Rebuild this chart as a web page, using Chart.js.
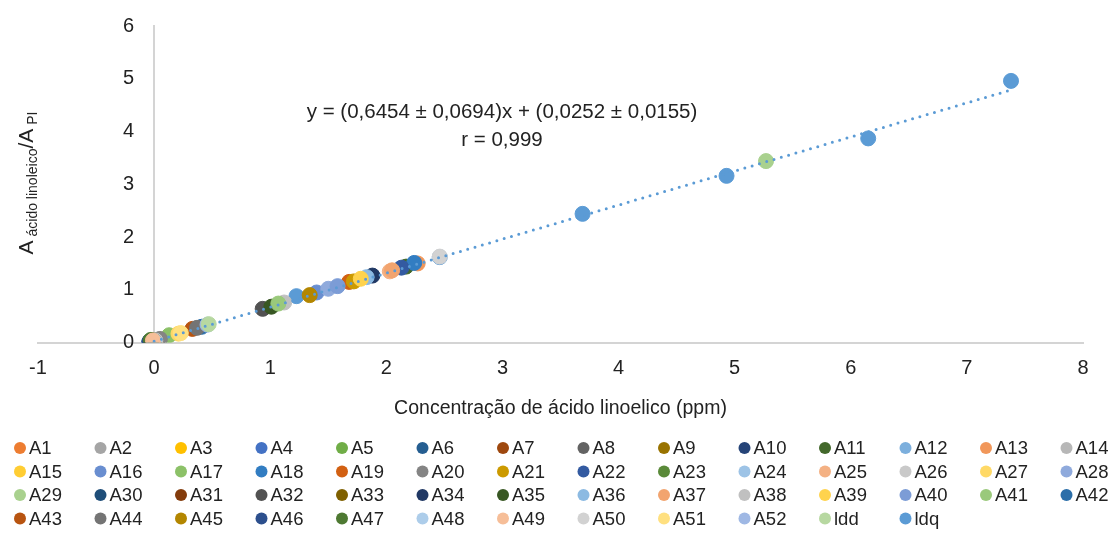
<!DOCTYPE html>
<html>
<head>
<meta charset="utf-8">
<script src="https://cdn.jsdelivr.net/npm/chart.js"></script>
<style>
  html, body { margin: 0; padding: 0; background: #fff; }
</style>
</head>
<body>
<canvas id="myChart" width="1118" height="538"></canvas>
<script>
  // sample names and values
  const sampleNames = [
    'A1','A2','A3','A4','A5','A6','A7','A8','A9','A10','A11','A12','A13',
    'A14','A15','A16','A17','A18','A19','A20','A21','A22','A23','A24','A25','A26',
    'A27','A28','A29','A30','A31','A32','A33','A34','A35','A36','A37','A38','A39',
    'A40','A41','A42','A43','A44','A45','A46','A47','A48','A49','A50','A51','A52'
  ];
  const sampleConc = [
    0.00, 0.02, -0.01, -0.04, 0.01, -0.03, -0.02, 0.03, 0.00, -0.03, 2.17, 0.01, 2.27,
    0.02, 0.01, 1.40, 0.13, 2.24, 1.68, 0.05, 1.72, 2.13, -0.01, 0.00, 2.03, 0.01,
    0.21, 1.50, 5.27, -0.04, -0.02, 0.935, 0.00, 1.88, 1.01, 1.83, 2.05, 1.12, 1.78,
    1.58, 1.07, 0.41, 0.33, 0.37, 1.34, -0.04, -0.03, 0.00, -0.01, 2.46, 0.23, 0.46
  ];
  const sampleRatio = [
    0.03, 0.04, 0.03, 0.02, 0.04, 0.02, 0.04, 0.05, 0.03, 0.03, 1.44, 0.03, 1.50,
    0.04, 0.03, 0.95, 0.14, 1.51, 1.15, 0.07, 1.16, 1.42, 0.04, 0.03, 1.35, 0.04,
    0.17, 1.02, 3.44, 0.02, 0.04, 0.64, 0.03, 1.27, 0.68, 1.24, 1.37, 0.76, 1.21,
    1.07, 0.74, 0.30, 0.26, 0.28, 0.90, 0.01, 0.05, 0.03, 0.04, 1.63, 0.18, 0.34
  ];
  const lddConc = [0.47];
  const lddRatio = [0.35];
  const ldqConc = [1.226, 2.46, 3.69, 4.93, 6.15, 7.38];
  const ldqRatio = [0.88, 1.62, 2.44, 3.16, 3.87, 4.96];
  // linear trend, y = 0.6454x + 0.0252
  const trendConc = [0, 7.38];
  const trendRatio = [0.0252, 4.788];
  const xTicks = [-1, 0, 1, 2, 3, 4, 5, 6, 7, 8];
  const yTicks = [0, 1, 2, 3, 4, 5, 6];

  // Office palette, in series order (A1..A52, ldd)
  const palette = [
    '#ED7D31','#A5A5A5','#FFC000','#4472C4','#70AD47','#255E91','#9E480E','#636363','#997300','#264478',
    '#43682B','#7CAFDD','#F1975A','#B7B7B7','#FFCD33','#698ED0','#8CC168','#327DC2','#D26012','#848484',
    '#CC9A00','#335AA1','#5A8A39','#9DC3E6','#F4B183','#C9C9C9','#FFD966','#8FAADC','#A9D18E','#1F4E79',
    '#843C0C','#525252','#7F6000','#203864','#385723','#8CBAE2','#F2A46F','#C0C0C0','#FFD34D','#7C9CD6',
    '#9AC97B','#2B6EA9','#B85410','#747474','#B38600','#2C4F8D','#4E7932','#ADCDEA','#F6BE98','#D2D2D2',
    '#FFE080','#9FB8E4','#B7D8A1'
  ];
  const ldqColor = '#5B9BD5';
  const textColor = '#222222';
  const fontFamily = '"Liberation Sans", Arial, sans-serif';

  const pts = (xs, ys) => xs.map((x, i) => ({ x: x, y: ys[i] }));

  const datasets = [];
  // ldq goes first in Excel, so it sits underneath everything
  datasets.push({
    label: 'ldq',
    data: pts(ldqConc, ldqRatio),
    backgroundColor: ldqColor,
    borderColor: ldqColor,
    pointRadius: 7.5,
    order: 100
  });
  sampleNames.forEach((name, i) => {
    datasets.push({
      label: name,
      data: [{ x: sampleConc[i], y: sampleRatio[i] }],
      backgroundColor: palette[i],
      borderColor: palette[i],
      pointRadius: 7.5,
      order: 98 - i
    });
  });
  datasets.push({
    label: 'ldd',
    data: pts(lddConc, lddRatio),
    backgroundColor: palette[52],
    borderColor: palette[52],
    pointRadius: 7.5,
    order: 10
  });
  datasets.push({
    label: 'trend',
    data: pts(trendConc, trendRatio),
    showLine: true,
    borderColor: ldqColor,
    borderWidth: 3,
    borderDash: [0, 7.6],
    borderCapStyle: 'round',
    pointRadius: 0,
    order: -1
  });

  const legendNames = sampleNames.concat(['ldd', 'ldq']);
  const legendColors = palette.concat([ldqColor]);

  const extras = {
    id: 'extras',
    afterDraw(chart) {
      const ctx = chart.ctx;
      ctx.save();
      ctx.fillStyle = textColor;

      // equation
      ctx.font = '20.5px ' + fontFamily;
      ctx.textAlign = 'center';
      ctx.textBaseline = 'middle';
      ctx.fillText('y = (0,6454 \u00b1 0,0694)x + (0,0252 \u00b1 0,0155)', 502, 112);
      ctx.fillText('r = 0,999', 502, 140);

      // y axis title with subscripts
      ctx.save();
      ctx.translate(33, 183);
      ctx.rotate(-Math.PI / 2);
      ctx.textAlign = 'left';
      ctx.textBaseline = 'alphabetic';
      const big = '21px ' + fontFamily, small = '14px ' + fontFamily;
      const parts = [['A', big, 0], [' \u00e1cido linoleico', small, 4], ['/A', big, 0], [' PI', small, 4]];
      let total = 0;
      parts.forEach(p => { ctx.font = p[1]; total += ctx.measureText(p[0]).width; });
      let cx = -total / 2;
      parts.forEach(p => {
        ctx.font = p[1];
        ctx.fillText(p[0], cx, p[2]);
        cx += ctx.measureText(p[0]).width;
      });
      ctx.restore();

      // legend, 14 columns
      ctx.font = '18.5px ' + fontFamily;
      ctx.textAlign = 'left';
      ctx.textBaseline = 'middle';
      legendNames.forEach((name, i) => {
        const col = i % 14, row = Math.floor(i / 14);
        const x = 20 + col * 80.5, y = 448 + row * 23.5;
        ctx.fillStyle = legendColors[i];
        ctx.beginPath();
        ctx.arc(x, y, 6, 0, Math.PI * 2);
        ctx.fill();
        ctx.fillStyle = textColor;
        ctx.fillText(name, x + 9, y + 1);
      });
      ctx.restore();
    }
  };

  const config = {
    type: 'scatter',
    data: { datasets },
    options: {
      responsive: false,
      animation: false,
      devicePixelRatio: 1,
      layout: { padding: { left: 38, right: 35, top: 26, bottom: 118 } },
      plugins: {
        legend: { display: false },
        tooltip: { enabled: false }
      },
      scales: {
        x: {
          type: 'linear',
          min: -1,
          max: 8,
          afterBuildTicks: s => { s.ticks = xTicks.map(v => ({ value: v })); },
          grid: { display: false, drawTicks: false },
          border: { display: true, color: '#D4D4D4', width: 2 },
          ticks: { color: textColor, font: { size: 20, family: fontFamily }, padding: 14 },
          title: {
            display: true,
            text: 'Concentração de ácido linoelico (ppm)',
            color: textColor,
            font: { size: 19.5, family: fontFamily },
            padding: { top: 2, bottom: 0 }
          }
        },
        y: {
          type: 'linear',
          position: { x: 0 },
          min: 0,
          max: 6,
          afterBuildTicks: s => { s.ticks = yTicks.map(v => ({ value: v })); },
          grid: { display: false, drawTicks: false },
          border: { display: true, color: '#D4D4D4', width: 2 },
          ticks: {
            color: textColor,
            font: { size: 20, family: fontFamily },
            // labels sit against the x = 0 axis, so push them left with en spaces
            callback: v => v + '\u2002\u2002'
          }
        }
      }
    },
    plugins: [extras]
  };

  const myChart = new Chart(document.getElementById('myChart'), config);
</script>
</body>
</html>
